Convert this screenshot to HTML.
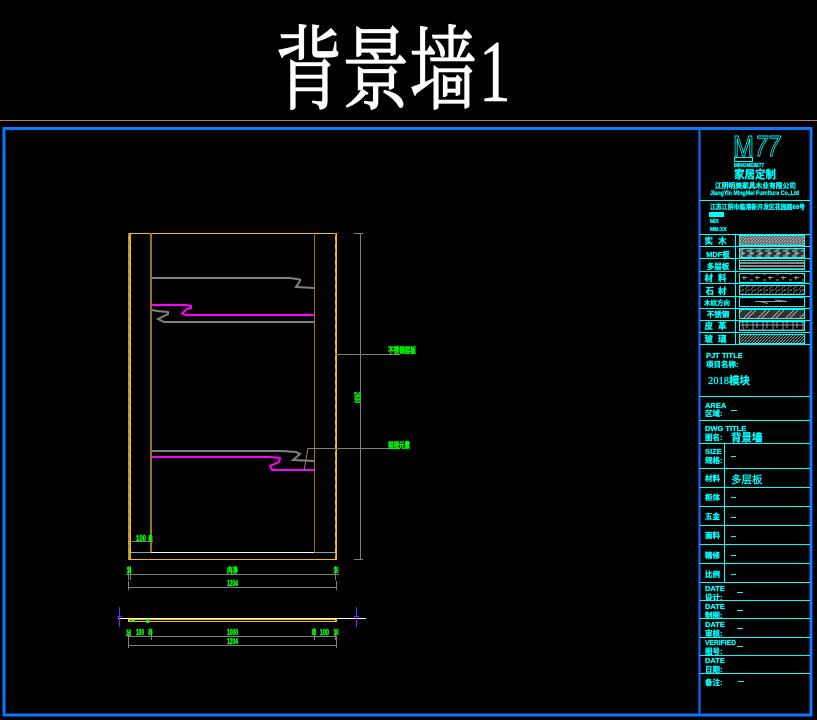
<!DOCTYPE html>
<html><head><meta charset="utf-8"><style>
html,body{margin:0;padding:0;background:#000;width:817px;height:720px;overflow:hidden}
svg{display:block}
text{font-family:"Liberation Sans","Noto Sans CJK SC",sans-serif}
.c text,text.c{fill:#00ffff;font-weight:bold;stroke:#00ffff;stroke-width:.3}
.g text{fill:#00ff00;font-weight:bold;text-anchor:middle;stroke:#00ff00;stroke-width:.45}
</style></head><body>
<svg width="817" height="720" viewBox="0 0 817 720" xmlns="http://www.w3.org/2000/svg">
<defs>
<pattern id="p1" width="3" height="3" patternUnits="userSpaceOnUse"><rect width="3" height="3" fill="#555"/><path d="M0 3L3 0" stroke="#aaa" stroke-width="1.2"/></pattern>
<pattern id="p2" width="9" height="5" patternUnits="userSpaceOnUse"><rect width="9" height="5" fill="#333"/><path d="M0 1H4V3H7M2 4H6" stroke="#aaa" stroke-width="1.3" fill="none"/></pattern>
<pattern id="p3" width="14" height="6" patternUnits="userSpaceOnUse"><rect width="14" height="6" fill="#888"/><path d="M0 .5H14M0 3.500H14M5 0V1M11 3V4" stroke="#000" stroke-width="1"/></pattern>
<pattern id="p4" width="13" height="6" patternUnits="userSpaceOnUse"><path d="M1 1.500H6M3 0V4M9 4H12" stroke="#999" stroke-width="1"/></pattern>
<pattern id="p5" width="6" height="4" patternUnits="userSpaceOnUse"><path d="M1 1H2.500M4 2H6M2 3H3.500" stroke="#aaa" stroke-width="1"/></pattern>
<pattern id="p7" width="14" height="10" patternUnits="userSpaceOnUse"><rect width="14" height="10" fill="#333"/><path d="M0 10L10 0M4 10L14 0" stroke="#aaa" stroke-width="1"/></pattern>
<pattern id="p8" width="10" height="8" patternUnits="userSpaceOnUse"><path d="M0 2H10M0 5H10M3 0V8M7 2V8" stroke="#999" stroke-width="1"/></pattern>
<pattern id="p9" width="3" height="3" patternUnits="userSpaceOnUse"><path d="M0 3L3 0" stroke="#999" stroke-width="1"/></pattern>
</defs>
<rect width="817" height="720" fill="#000"/>

<!-- title -->
<text transform="translate(275 102) scale(.73 1)" font-size="92" fill="#fff" stroke="#fff" stroke-width="1.2" style="font-family:'Liberation Serif','Noto Serif CJK SC',serif">背景墙</text>
<text transform="translate(479 101) scale(.72 1)" font-size="88" fill="#fff" stroke="#fff" stroke-width=".6" style="font-family:'Liberation Serif',serif">1</text>
<rect x="0" y="120" width="817" height="1" fill="#b08080"/>

<!-- frame -->
<g fill="none" stroke="#0a78ff" stroke-width="3" shape-rendering="crispEdges">
<rect x="4" y="128.500" width="807" height="586.500"/>
<path d="M699.500 128V715" stroke-width="2"/>
</g>

<!-- table lines -->
<g stroke="#00ffff" stroke-width="1" shape-rendering="crispEdges" fill="none">
<path d="M700 200.500H810M700 234.500H810M700 246.500H810M700 258.500H810M700 271.500H810M700 283.500H810M700 296.500H810M700 308.500H810M700 320.500H810M700 332.500H810M700 344.500H810M700 396.500H810M700 420.500H810M700 443.500H810M700 468.500H810M700 487.500H810M700 506.500H810M700 525.500H810M700 544.500H810M700 563.500H810M700 582.500H810M700 600.500H810M700 618.500H810M700 637.500H810M700 655.500H810M700 673.500H810"/>
<path d="M735.500 234V345M724.500 443V582"/>
<rect x="739.500" y="235.500" width="65" height="10" />
<rect x="739.500" y="248.500" width="65" height="9"/>
<rect x="739.500" y="260.500" width="65" height="9"/>
<rect x="739.500" y="273.500" width="65" height="9"/>
<rect x="739.500" y="285.500" width="65" height="9"/>
<rect x="739.500" y="297.500" width="65" height="9"/>
<rect x="739.500" y="309.500" width="65" height="9"/>
<rect x="739.500" y="321.500" width="65" height="9"/>
<rect x="739.500" y="334.500" width="65" height="9"/>
</g>
<g>
<rect x="740" y="236" width="64" height="9" fill="url(#p1)"/>
<rect x="740" y="249" width="64" height="8" fill="url(#p2)"/>
<rect x="740" y="261" width="64" height="8" fill="url(#p3)"/>
<rect x="740" y="274" width="64" height="8" fill="url(#p4)"/>
<rect x="740" y="286" width="64" height="8" fill="url(#p5)"/>
<path d="M755 301.500H787L775 300M760 301.500L768 303.500" stroke="#999" fill="none"/>
<rect x="740" y="310" width="64" height="8" fill="url(#p7)"/>
<rect x="740" y="322" width="64" height="8" fill="url(#p8)"/>
<rect x="740" y="335" width="64" height="8" fill="url(#p9)"/>
</g>

<!-- logo -->
<text x="733" y="156" font-size="29" fill="none" stroke="#00ffff" stroke-width=".9" style="font-family:'Liberation Sans',sans-serif" textLength="21" lengthAdjust="spacingAndGlyphs">M</text>
<text x="755" y="156" font-size="29" fill="none" stroke="#00ffff" stroke-width=".9" style="font-family:'Liberation Sans',sans-serif;font-style:italic" textLength="25" lengthAdjust="spacingAndGlyphs">77</text>
<rect x="734.500" y="157.500" width="18" height="4" fill="none" stroke="#00ffff"/>
<g class="c">
<text x="734" y="167" font-size="5" textLength="30" lengthAdjust="spacingAndGlyphs">MINGMEIM77</text>
<text x="734" y="178" font-size="11" textLength="42" lengthAdjust="spacingAndGlyphs">家居定制</text>
<text x="715" y="188" font-size="7" textLength="81" lengthAdjust="spacingAndGlyphs">江阴明美家具木业有限公司</text>
<text x="710" y="195" font-size="6" textLength="89" lengthAdjust="spacingAndGlyphs">JiangYin MingMei Furniture Co.,Ltd</text>
<text x="710" y="209" font-size="6.500" textLength="95" lengthAdjust="spacingAndGlyphs">江苏江阴市临港新开发区花园路88号</text>
<text x="710" y="223" font-size="5">MIX</text>
<text x="710" y="231" font-size="5">MM:XX</text>
</g>
<rect x="709" y="212" width="15" height="5" fill="#00ffff"/>

<!-- material labels -->
<g class="c" font-size="8.500" text-anchor="middle">
<text x="718" y="244" letter-spacing="5">实木</text>
<text x="718" y="257" font-size="7.500">MDF板</text>
<text x="718" y="269" font-size="7.500">多层板</text>
<text x="718" y="281" letter-spacing="5">材料</text>
<text x="718" y="294" letter-spacing="4">石材</text>
<text x="717" y="305" font-size="6.500">木纹方向</text>
<text x="718" y="317" font-size="7.500">不锈钢</text>
<text x="718" y="329" letter-spacing="5">皮革</text>
<text x="718" y="342" letter-spacing="5">玻璃</text>
</g>

<g class="c" font-size="7.500">
<text x="706" y="358">PJT TITLE</text>
<text x="706" y="367">项目名称:</text>
<text x="708" y="384" font-size="10.500" style="font-weight:normal;font-family:'Liberation Serif','Noto Sans CJK SC',serif">2018<tspan style="font-weight:bold;font-family:'Noto Sans CJK SC'">模块</tspan></text>
<text x="705" y="408">AREA</text>
<text x="705" y="416">区域:</text>
<text x="705" y="431">DWG TITLE</text>
<text x="705" y="440">图名:</text>
<text x="731" y="441" font-size="10.500">背景墙</text>
<text x="705" y="454">SIZE</text>
<text x="705" y="463">规格:</text>
<text x="705" y="481">材料</text>
<text x="731" y="483" font-size="10.500" style="font-weight:normal">多层板</text>
<text x="705" y="500">柜体</text>
<text x="705" y="519">五金</text>
<text x="705" y="538">面料</text>
<text x="705" y="558">精修</text>
<text x="705" y="577">比例</text>
<text x="705" y="591">DATE</text>
<text x="705" y="600">设计:</text>
<text x="705" y="609">DATE</text>
<text x="705" y="618">制图:</text>
<text x="705" y="627">DATE</text>
<text x="705" y="636">审核:</text>
<text x="705" y="645" textLength="31" lengthAdjust="spacingAndGlyphs">VERIFIED</text>
<text x="705" y="654">图号:</text>
<text x="705" y="663">DATE</text>
<text x="705" y="672">日期:</text>
<text x="705" y="685">备注:</text>
</g>
<path d="M731 410.500H737M731 456.500H736M731 497.500H736M731 517.500H736M731 536.500H736M731 555.500H736M731 574.500H736M737 592.500H743M737 610.500H743M737 628.500H743M737 646.500H743M738 681.500H744" stroke="#00ffff" fill="none" shape-rendering="crispEdges"/>

<!-- elevation -->
<g shape-rendering="crispEdges" fill="none">
<path d="M128 233.500H337" stroke="#ffbb00"/>
<path d="M128 559.500H337" stroke="#ffbb00"/>
<rect x="128" y="233" width="2" height="327" fill="#c8a020"/>
<rect x="130" y="233" width="1" height="327" fill="#ffbb00"/>
<path d="M128.500 233V560" stroke="#808080" stroke-dasharray="3 5"/>
<rect x="150" y="233" width="2" height="320" fill="#a87000"/>
<path d="M150.500 233V553" stroke="#808080" stroke-dasharray="3 5"/>
<rect x="314" y="233" width="1" height="320" fill="#a87000"/>
<rect x="335" y="233" width="2" height="327" fill="#ffbb00"/>
<path d="M335.500 233V560" stroke="#808080" stroke-dasharray="3 5"/>
<path d="M131 552.500H150" stroke="#60b0d0"/>
<path d="M315 552.500H335" stroke="#60b0d0"/>
<path d="M151 552.500H314" stroke="#fff"/>
</g>
<g fill="none" stroke-width="2">
<path d="M152 278H290L300 279.500V281L296 287L314 288" stroke="#808080"/>
<path d="M152 305H186L191 306V308L187 309L182 313.500L186 315H314" stroke="#ff00ff"/>
<path d="M152 310L157 311L168 312V314L158 319L164 322H314" stroke="#808080"/>
<path d="M152 451H282L296 452L300 454L293 460L314 461" stroke="#808080"/>
<path d="M152 457H270L280 458L279 462L270 466L272 470H314" stroke="#ff00ff"/>
</g>

<!-- dims -->
<g fill="none" stroke="#808080" shape-rendering="crispEdges">
<path d="M360.500 233V559M354 233.500H363M354 559.500H363"/>
<path d="M335 354.500H400M308 448.500H400"/>
<path d="M308 448L304 471" shape-rendering="auto"/>
<path d="M130 541.500H153"/>
<path d="M126 574.500H339M128.500 566V580M130.500 566V580M335.500 566V580"/>
<path d="M128 587.500H337M128.500 581V590M336.500 581V590"/>
<path d="M128 636.500H337M128.500 632V640M151.500 630V640M314.500 628V640M335.500 630V640"/>
<path d="M128 645.500H337M128.500 637V648M336.500 637V648"/>
</g>
<g class="g" font-size="8">
<text x="402" y="353" textLength="28" lengthAdjust="spacingAndGlyphs">不锈钢层板</text>
<text x="399" y="448" textLength="22" lengthAdjust="spacingAndGlyphs">前视元素</text>
<text transform="translate(354.500 397.500) rotate(90)" font-size="8" textLength="11" lengthAdjust="spacingAndGlyphs">2600</text>
<text x="141" y="541" textLength="10" lengthAdjust="spacingAndGlyphs">100</text>
<text x="150.500" y="541">8</text>
<text x="129" y="573" textLength="5" lengthAdjust="spacingAndGlyphs">18</text>
<text x="232.500" y="573" textLength="11" lengthAdjust="spacingAndGlyphs">内净</text>
<text x="336" y="573" textLength="5" lengthAdjust="spacingAndGlyphs">18</text>
<text x="232.500" y="586" textLength="11" lengthAdjust="spacingAndGlyphs">1204</text>
<text x="128.500" y="636" font-size="9" textLength="5" lengthAdjust="spacingAndGlyphs">18</text>
<text x="140" y="635" textLength="8" lengthAdjust="spacingAndGlyphs">100</text>
<text x="150.500" y="635">8</text>
<text x="232.500" y="635" textLength="11" lengthAdjust="spacingAndGlyphs">1000</text>
<text x="314" y="635">8</text>
<text x="324.500" y="635" textLength="9" lengthAdjust="spacingAndGlyphs">100</text>
<text x="336" y="635" textLength="5" lengthAdjust="spacingAndGlyphs">18</text>
<text x="232.500" y="644" textLength="11" lengthAdjust="spacingAndGlyphs">1204</text>
</g>

<!-- plan -->
<g fill="none" shape-rendering="crispEdges">
<path d="M128 621.500H337" stroke="#ffbb00"/>
<path d="M128 619.500H337" stroke="#ffbb00"/>
<rect x="128" y="619" width="2" height="3" fill="#ffbb00"/>
<rect x="335" y="619" width="2" height="3" fill="#ffbb00"/>
<path d="M118 618.500H366" stroke="#fff"/>
<path d="M119.500 607V627M356.500 607V627" stroke="#8020ff"/>
<path d="M117 616.500H122M354 616.500H359" stroke="#8020ff"/>
<rect x="146" y="619" width="3" height="4" fill="#00ff00"/>
<rect x="131" y="620" width="4" height="2" fill="#00ff00"/>
</g>
</svg>
</body></html>
